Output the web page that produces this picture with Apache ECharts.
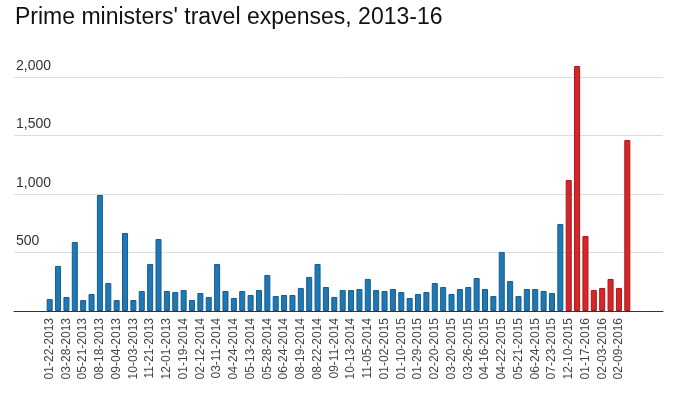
<!DOCTYPE html>
<html>
<head>
<meta charset="utf-8">
<script src="https://cdn.jsdelivr.net/npm/echarts@6/dist/echarts.min.js"></script>
<style>html,body{margin:0;padding:0;background:#fff;}#c{width:675px;height:395px;}</style>
</head>
<body>
<div id="c"></div>
<script>
var titleText = "Prime ministers' travel expenses, 2013-16";
// category labels (only every other date is printed in the original)
var categories = [
 '01-22-2013','', '03-28-2013','', '05-21-2013','', '08-18-2013','', '09-04-2013','',
 '10-03-2013','', '11-21-2013','', '12-01-2013','', '01-19-2014','', '02-12-2014','',
 '03-11-2014','', '04-24-2014','', '05-13-2014','', '05-28-2014','', '06-24-2014','',
 '08-19-2014','', '08-22-2014','', '09-11-2014','', '10-13-2014','', '11-05-2014','',
 '01-02-2015','', '01-10-2015','', '01-29-2015','', '02-20-2015','', '03-20-2015','',
 '03-26-2015','', '04-16-2015','', '04-22-2015','', '05-21-2015','', '06-24-2015','',
 '07-23-2015','', '12-10-2015','', '01-17-2016','', '02-03-2016','', '02-09-2016',''
];
// first 62 trips (blue)
var blueValues = [
 103, 385, 120, 590, 94, 145, 991, 239, 94, 667,
 94, 171, 402, 615, 171, 162, 179, 94, 154, 120,
 402, 171, 111, 171, 137, 179, 308, 128, 137, 137,
 197, 291, 402, 205, 120, 179, 179, 188, 274, 179,
 171, 188, 162, 111, 145, 162, 239, 205, 145, 188,
 205, 282, 188, 128, 504, 256, 128, 188, 188, 171,
 154, 744
];
// last 8 trips (red)
var redValues = [1120, 2094, 641, 179, 197, 274, 197, 1462];
var yTicks = [0, 500, 1000, 1500, 2000];

var blueData = [], redData = [];
for (var i = 0; i < categories.length; i++) {
  if (i < blueValues.length) { blueData.push(blueValues[i]); redData.push('-'); }
  else { blueData.push('-'); redData.push(redValues[i - blueValues.length]); }
}

var FONT = 'Liberation Sans, Arial, Helvetica, sans-serif';
var chart = echarts.init(document.getElementById('c'), null, {renderer: 'canvas'});
chart.setOption({
  animation: false,
  backgroundColor: '#ffffff',
  title: {
    text: titleText, left: 15, top: 6, padding: 0,
    textStyle: {fontFamily: FONT, fontSize: 23, fontWeight: 'normal', color: '#111'}
  },
  grid: [
    {left: 45.5, right: 43.5, top: 77, bottom: 84},
    {left: 14, right: 12, top: 77, bottom: 84}
  ],
  xAxis: [
    {
      gridIndex: 0, type: 'category', data: categories,
      axisLine: {show: false}, axisTick: {show: false},
      axisLabel: {interval: 0, rotate: 90, margin: 7, fontFamily: FONT, fontSize: 12, color: '#444'}
    },
    {
      gridIndex: 1, type: 'value', min: 0, max: 1,
      axisLine: {show: true, lineStyle: {color: '#333', width: 1}},
      axisTick: {show: false}, axisLabel: {show: false}, splitLine: {show: false}
    }
  ],
  yAxis: [
    {gridIndex: 0, type: 'value', min: yTicks[0], max: yTicks[yTicks.length - 1], show: false},
    {
      gridIndex: 1, type: 'value', min: yTicks[0], max: yTicks[yTicks.length - 1], interval: yTicks[1] - yTicks[0],
      axisLine: {show: false}, axisTick: {show: false},
      splitLine: {show: true, lineStyle: {color: '#dcdcdc', width: 1}},
      axisLabel: {
        inside: true, showMinLabel: false, margin: 2, verticalAlign: 'bottom',
        padding: [0, 0, 4, 0], fontFamily: FONT, fontSize: 14, color: '#333',
        formatter: function (v) { return v.toLocaleString('en-US'); }
      }
    }
  ],
  series: [
    {
      type: 'bar', name: 'blue', xAxisIndex: 0, yAxisIndex: 0, stack: 'all', data: blueData,
      barCategoryGap: '28%', clip: false,
      itemStyle: {color: '#1f77b4', borderColor: '#175d8e', borderWidth: 1}
    },
    {
      type: 'bar', name: 'red', xAxisIndex: 0, yAxisIndex: 0, stack: 'all', data: redData,
      barCategoryGap: '28%', clip: false,
      itemStyle: {color: '#d62728', borderColor: '#a8161b', borderWidth: 1}
    }
  ]
});
</script>
</body>
</html>
